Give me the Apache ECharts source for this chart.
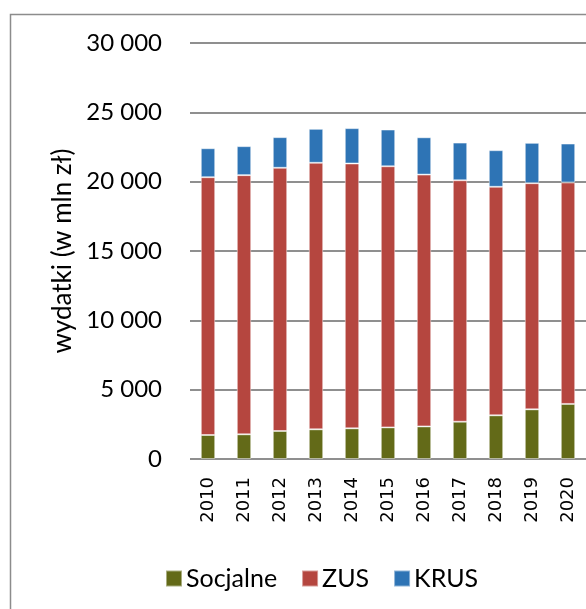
<!DOCTYPE html>
<html lang="pl">
<head>
<meta charset="UTF-8">
<title>Wydatki</title>
<script src="https://cdn.jsdelivr.net/npm/echarts@6/dist/echarts.min.js"></script>
<style>
    html, body { margin: 0; padding: 0; background: #fff; }
    #chart { width: 586px; height: 609px; }
</style>
</head>
<body>
<div id="chart"></div>
<script>
    // lata i wydatki (w mln zł)
    const years = ['2010', '2011', '2012', '2013', '2014', '2015', '2016', '2017', '2018', '2019', '2020'];
    const socjalne = [1730, 1780, 2020, 2140, 2210, 2280, 2350, 2690, 3150, 3580, 3970];
    const zus = [18590, 18690, 18980, 19220, 19100, 18830, 18160, 17410, 16480, 16310, 15970];
    const krus = [2090, 2090, 2210, 2450, 2550, 2650, 2690, 2720, 2640, 2910, 2810];

    const labelFont = 'Lato, "Noto Sans", sans-serif';
    const fmt = v => String(v).replace(/\B(?=(\d{3})+(?!\d))/g, ' ');

    const chart = echarts.init(document.getElementById('chart'));

    function barSeries(name, data, color) {
        return {
            name: name,
            type: 'bar',
            stack: 'total',
            data: data,
            barWidth: '40%',
            itemStyle: {
                color: color,
                borderColor: 'rgba(255,255,255,0.45)',
                borderWidth: 1
            }
        };
    }

    chart.setOption({
        animation: false,
        graphic: [{
            type: 'rect',
            shape: { x: 10.5, y: 14.5, width: 800, height: 800 },
            style: { fill: 'none', stroke: '#8c8c8c', lineWidth: 1.5 },
            silent: true
        }],
        legend: {
            left: 160,
            top: 561,
            itemWidth: 16,
            itemHeight: 16,
            itemGap: 24,
            icon: 'rect',
            textStyle: { fontFamily: labelFont, fontSize: 25, color: '#000', padding: [0, 0, 0, -1] },
            data: ['Socjalne', 'ZUS', 'KRUS']
        },
        grid: { left: 190, right: 0, top: 43, bottom: 150, containLabel: false },
        xAxis: {
            type: 'category',
            data: years,
            axisLine: { show: false },
            axisTick: { show: false },
            axisLabel: {
                rotate: 90,
                margin: 18,
                interval: 0,
                hideOverlap: false,
                overflow: 'none',
                fontFamily: '"DejaVu Sans", sans-serif',
                fontSize: 18,
                color: '#000'
            }
        },
        yAxis: {
            type: 'value',
            min: 0,
            max: 30000,
            interval: 5000,
            name: 'wydatki (w mln zł)',
            nameLocation: 'middle',
            nameGap: 112,
            nameTextStyle: { fontFamily: labelFont, fontSize: 26, color: '#000' },
            axisLine: { show: false },
            axisTick: { show: false },
            axisLabel: {
                margin: 28,
                fontFamily: labelFont,
                fontSize: 24,
                color: '#000',
                formatter: fmt
            },
            splitLine: { lineStyle: { color: '#8f8f8f', width: 2 } }
        },
        series: [
            barSeries('Socjalne', socjalne, '#636a18'),
            barSeries('ZUS', zus, '#b5463f'),
            barSeries('KRUS', krus, '#2e74b5')
        ]
    });
</script>
</body>
</html>
